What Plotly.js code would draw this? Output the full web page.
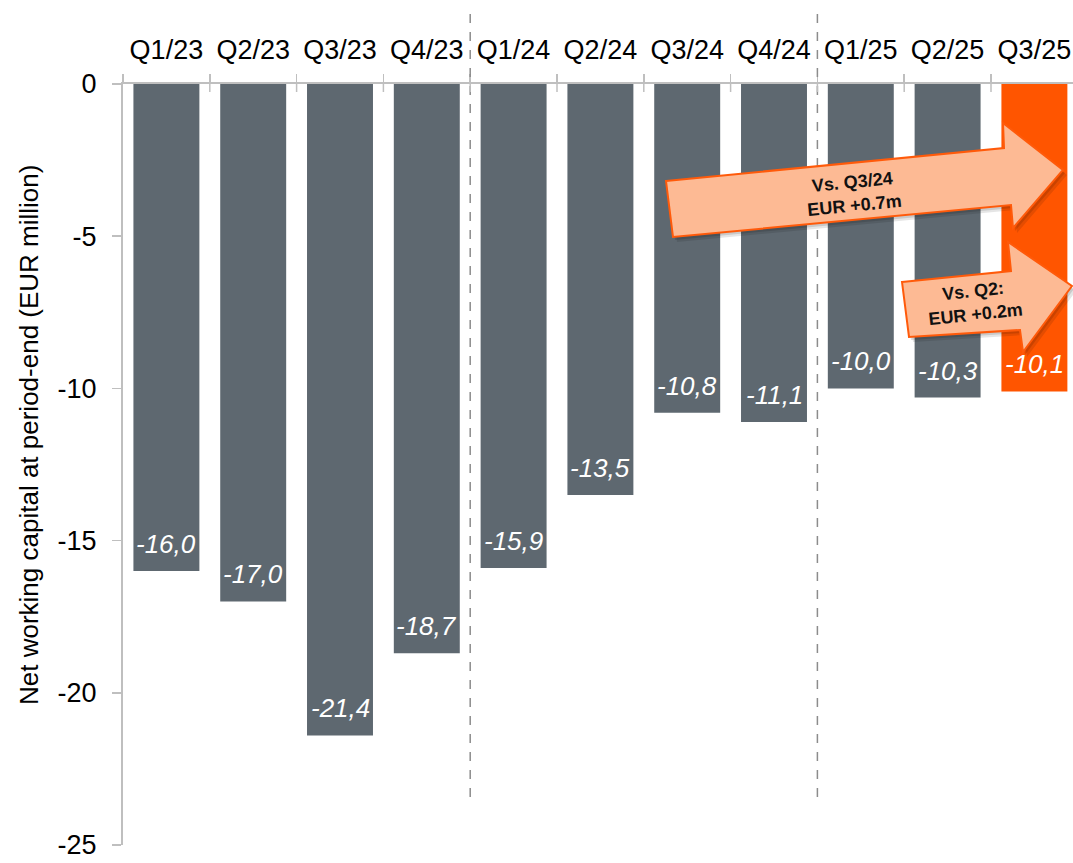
<!DOCTYPE html>
<html>
<head>
<meta charset="utf-8">
<script src="https://cdn.plot.ly/plotly-3.0.1.min.js"></script>
<style>html,body{margin:0;padding:0;background:#fff;}#chart{width:1073px;height:863px;}</style>
</head>
<body>
<div id="chart"></div>
<script>
// ---- data ----
const quarters = ["Q1/23","Q2/23","Q3/23","Q4/23","Q1/24","Q2/24","Q3/24","Q4/24","Q1/25","Q2/25","Q3/25"];
const nwc = [-16.0,-17.0,-21.4,-18.7,-15.9,-13.5,-10.8,-11.1,-10.0,-10.3,-10.1];
const yTicks = [0,-5,-10,-15,-20,-25];
const arrowTexts = ["Vs. Q3/24<br>EUR +0.7m","Vs. Q2:<br>EUR +0.2m"];
const yearBreaks = [3.5, 7.5];

// ---- styling ----
const GREY = "#5E6870";
const ORANGE = "#FF5500";
const FONT = "Liberation Sans, Arial, sans-serif";
const W = 1073, H = 863, ML = 123, MT = 84, MR = 0, MB = 18;
const PW = W - ML - MR, PH = H - MT - MB;
const px = x => (x - ML) / PW;
const py = y => (H - MB - y) / PH;
const catW = 86.8;
const xRange = [-0.5, -0.5 + PW / catW];

const colors = quarters.map((q, i) => i === quarters.length - 1 ? ORANGE : GREY);
const fmt = v => v.toFixed(1).replace('.', ',');

const trace = {
  type: 'bar',
  x: quarters,
  y: nwc,
  marker: {color: colors, line: {width: 0}},
  hoverinfo: 'skip'
};

const annotations = quarters.map((q, i) => ({
  x: q, y: nwc[i], xref: 'x', yref: 'y',
  text: fmt(nwc[i]),
  showarrow: false,
  yanchor: 'bottom', yshift: 10,
  font: {family: FONT, size: 26, color: '#ffffff', style: 'italic'}
}));

// y-axis title
annotations.push({
  xref: 'paper', yref: 'paper', x: px(29), y: py(435),
  text: 'Net working capital at period-end (EUR million)',
  textangle: -90, showarrow: false, xanchor: 'center', yanchor: 'middle',
  font: {family: FONT, size: 26, color: '#000'}
});

// arrow texts
annotations.push({
  xref: 'paper', yref: 'paper', x: px(853), y: py(193),
  text: '<b>' + arrowTexts[0] + '</b>', textangle: -5.6, showarrow: false,
  xanchor: 'center', yanchor: 'middle',
  font: {family: FONT, size: 18, color: '#111'}
});
annotations.push({
  xref: 'paper', yref: 'paper', x: px(974), y: py(302),
  text: '<b>' + arrowTexts[1] + '</b>', textangle: -6.2, showarrow: false,
  xanchor: 'center', yanchor: 'middle',
  font: {family: FONT, size: 18, color: '#111'}
});

function pathFrom(pts, dx, dy) {
  return pts.map((p, i) => (i ? 'L' : 'M') + px(p[0] + dx) + ',' + py(p[1] + dy)).join(' ') + ' Z';
}
const arrow1 = [[666,181],[1004,148],[1003,123],[1063,170],[1013,228],[1011,205],[673,237]];
const arrow2 = [[902,282],[1011,271],[1008,242],[1072,286],[1023,352],[1020,330],[909,337]];

const shapes = [];
// year separators
yearBreaks.forEach(b => shapes.push({
  type: 'line', xref: 'x', yref: 'paper', x0: b, x1: b, y0: py(797), y1: py(5),
  line: {color: '#8c8c8c', width: 1.5, dash: 'dash'}, layer: 'above'
}));
// downward part of crossing ticks on top axis
for (let i = 0; i < quarters.length - 1; i++) {
  shapes.push({type: 'line', xref: 'x', yref: 'paper', x0: i + 0.5, x1: i + 0.5,
    y0: 1, y1: py(MT + 8), line: {color: '#bfbfbf', width: 1.5}, layer: 'above'});
}
[arrow1, arrow2].forEach(a => {
  shapes.push({type: 'path', xref: 'paper', yref: 'paper', path: pathFrom(a, 4, 5),
    fillcolor: 'rgba(0,0,0,0.10)', line: {width: 0}, layer: 'above'});
  shapes.push({type: 'path', xref: 'paper', yref: 'paper', path: pathFrom(a, 2, 3),
    fillcolor: 'rgba(0,0,0,0.12)', line: {width: 0}, layer: 'above'});
  shapes.push({type: 'path', xref: 'paper', yref: 'paper', path: pathFrom(a, 0, 0),
    fillcolor: '#FDBA94', line: {color: '#FF5A0A', width: 2}, layer: 'above'});
});

const layout = {
  width: W, height: H,
  margin: {l: ML, r: MR, t: MT, b: MB, pad: 0},
  paper_bgcolor: '#fff', plot_bgcolor: '#fff',
  showlegend: false,
  bargap: 0.24,
  font: {family: FONT, color: '#000'},
  xaxis: {
    type: 'category', side: 'top', range: xRange,
    showline: true, linecolor: '#bfbfbf', linewidth: 2,
    ticks: 'outside', ticklen: 8, tickcolor: '#bfbfbf', tickwidth: 1.5,
    tickson: 'boundaries', showgrid: false, zeroline: false,
    tickfont: {family: FONT, size: 27, color: '#000'},
    ticklabelstandoff: 12, fixedrange: true
  },
  yaxis: {
    range: [-25, 0], tickmode: 'array', tickvals: yTicks, ticktext: yTicks.map(String),
    showline: true, linecolor: '#bfbfbf', linewidth: 2,
    ticks: 'outside', ticklen: 9, tickcolor: '#bfbfbf', tickwidth: 1.5,
    showgrid: false, zeroline: false,
    tickfont: {family: FONT, size: 27, color: '#000'},
    ticklabelstandoff: 10, ticklabeloverflow: 'allow', fixedrange: true
  },
  annotations: annotations,
  shapes: shapes
};

Plotly.newPlot('chart', [trace], layout, {displayModeBar: false, staticPlot: true});
</script>
</body>
</html>
